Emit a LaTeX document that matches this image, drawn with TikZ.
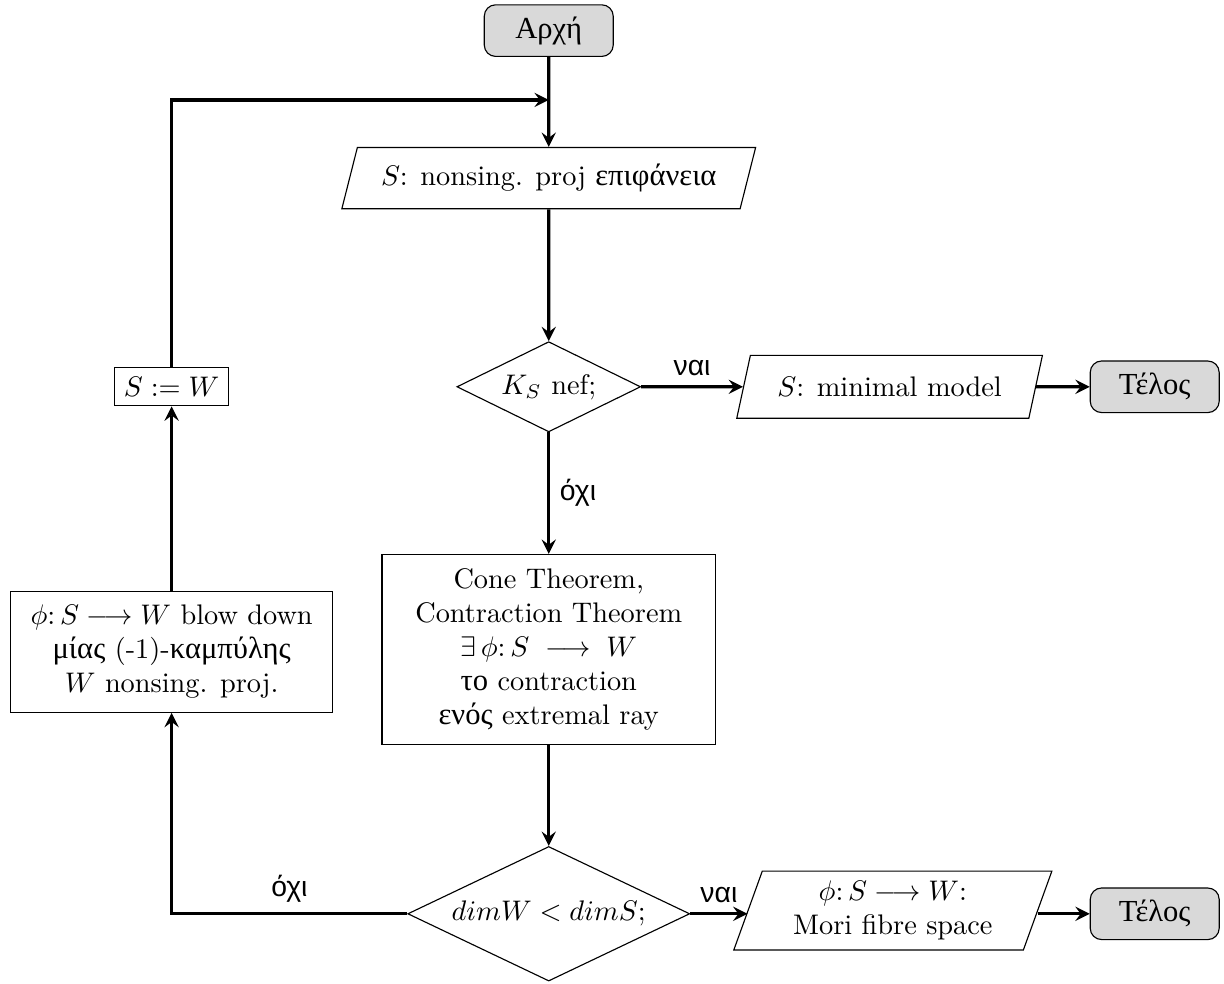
\documentclass[tikz,border=0pt]{standalone}
\usepackage{fontspec}
\newfontfamily\grtext{Liberation Serif}[Scale=1.08]
\newfontfamily\grlabel{Liberation Sans}
\usetikzlibrary{shapes.geometric}

\begin{document}
\begin{tikzpicture}
        \useasboundingbox (0,0) rectangle (15.19,-12.21);

        \begin{scope}[%
            every node/.style = {%
                draw,
                thin,
                align = center
            },
            terminal/.style = {%
                rounded corners = 4pt,
                fill = gray!30,
                minimum width = 1.6cm,
                minimum height = 0.64cm
            },
            io/.style = {%
                trapezium,
                trapezium left angle = 73,
                trapezium right angle = 107,
                trapezium stretches = true
            },
            decision/.style = {%
                diamond,
                aspect = 2,
                inner sep = 0pt
            }
        ]

            % Nodes of the flowchart.
            \node [terminal] (start) at (6.81, -0.38) {\grtext Αρχή};
            \node [io, minimum width = 5.14cm, minimum height = 0.76cm] (surf) at (6.81, -2.21) {$S$: nonsing. proj {\grtext επιφάνεια}};
            \node [decision, minimum width = 2.28cm, minimum height = 1.12cm] (nef) at (6.81, -4.80) {$K_S$ nef;};
            \node [io, minimum width = 3.8cm, minimum height = 0.78cm] (minmod) at (11.04, -4.80) {$S$: minimal model};
            \node [terminal] (endA) at (14.33, -4.80) {\grtext Τέλος};
            \node [minimum width = 4.14cm, minimum height = 2.36cm] (cone) at (6.81, -8.06) {Cone Theorem,\\ Contraction Theorem\\ $\exists\,\phi\colon S\;\longrightarrow\;W$\\ {\grtext το} contraction\\ {\grtext ενός} extremal ray};
            \node [decision, minimum width = 3.5cm, minimum height = 1.67cm] (dim) at (6.81, -11.34) {$dim W < dim S$;};
            \node [io, minimum width = 3.97cm, minimum height = 0.98cm] (mori) at (11.08, -11.30) {$\phi\colon S\longrightarrow W$:\\ Mori fibre space};
            \node [terminal] (endB) at (14.33, -11.34) {\grtext Τέλος};
            \node [minimum width = 4.0cm, minimum height = 1.5cm] (blow) at (2.13, -8.09) {$\phi\colon S\longrightarrow W$ blow down\\ {\grtext μίας} (-1)-{\grtext καμπύλης}\\ $W$ nonsing. proj.};
            \node (assign) at (2.13, -4.80) {$S := W$};
            \coordinate (merge) at (6.81, -1.24);
        \end{scope}

        \begin{scope}[%
            > = stealth,
            every node/.style = {%
                font = \grlabel
            },
            every edge/.style = {%
                draw,
                very thick
            }
        ]

            % Connectors of the flowchart.
            \path [->] (start) edge (surf);
            \path [->] (surf) edge (nef);
            \path [->] (nef) edge node [above] {ναι} (minmod);
            \path [->] (minmod) edge (endA);
            \path [->] (nef) edge node [right] {όχι} (cone);
            \path [->] (cone) edge (dim);
            \path [->] (dim.east) edge node [above] {ναι} (dim.east -| mori.west);
            \path [->] (mori.east |- endB) edge (endB);
            \path [->] (blow) edge (assign);
            \draw [->, very thick] (dim) -| node [pos = 0.25, above] {όχι} (blow);
            \draw [->, very thick] (assign) |- (merge);
        \end{scope}
    \end{tikzpicture}
\end{document}
